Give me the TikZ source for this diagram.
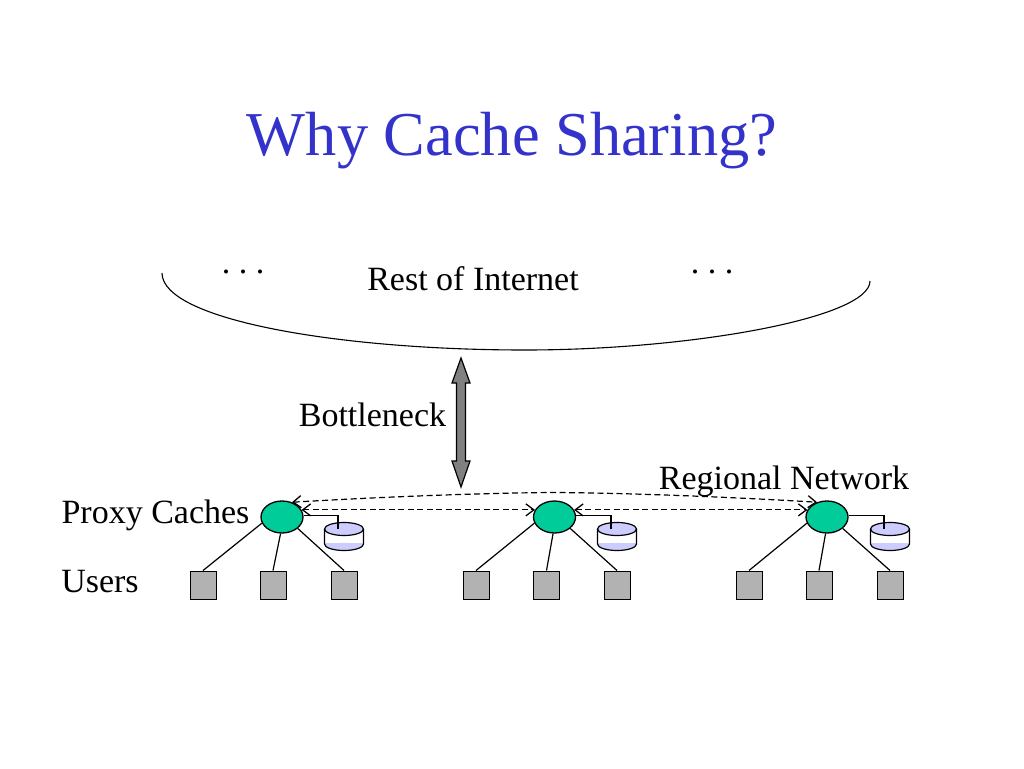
\documentclass[tikz,border=0pt]{standalone}
\usepackage{fontspec}
\setmainfont{Liberation Serif}
\usetikzlibrary{arrows.meta,shapes.geometric,calc}
\definecolor{titleblue}{RGB}{51,51,204}
\definecolor{proxygreen}{RGB}{0,204,153}
\definecolor{disklav}{RGB}{204,204,255}
\definecolor{usergray}{RGB}{178,178,178}
\tikzset{
  x=1pt,y=-1pt,
  proxy/.style={draw,ellipse,fill=proxygreen,minimum width=42pt,minimum height=32pt,inner sep=0pt,line width=1.3pt},
  userbox/.style={draw,fill=usergray,minimum width=26pt,minimum height=28pt,inner sep=0pt,line width=1pt},
  link/.style={line width=1.2pt},
  share/.style={line width=1.2pt,dash pattern=on 6pt off 3.5pt,{Straight Barb[length=8pt,width=12pt,line width=1.3pt]}-{Straight Barb[length=8pt,width=12pt,line width=1.3pt]}},
  label/.style={font=\fontsize{34}{40}\selectfont,anchor=base,inner sep=0pt},
  titletext/.style={font=\fontsize{62.4}{70}\selectfont,text=titleblue,anchor=base,inner sep=0pt}
}
\newcommand{\diskshape}[2]{%
  \coordinate (#2) at (#1,529);
  \fill[disklav] (#1-19.5,543) -- (#1+19.5,543) -- (#1+19.5,544) arc[start angle=360,end angle=180,x radius=19.5,y radius=-6.5] -- cycle;
  \draw[line width=1.2pt,fill=disklav] (#1,529) ellipse[x radius=19.5,y radius=6.5];
  \draw[line width=1.2pt] (#1-19.5,529) -- (#1-19.5,544) arc[start angle=180,end angle=360,x radius=19.5,y radius=-6.5] -- (#1+19.5,529);
}
\begin{document}
\begin{tikzpicture}
\useasboundingbox (0,0) rectangle (1024,768);
\fill[white] (0,0) rectangle (1024,768);

\node[titletext] (title) at (512,155) {Why Cache Sharing?};

\coordinate (netl) at (162,273);
\coordinate (netm) at (525,350);
\coordinate (netr) at (870,281);
\draw[line width=1.1pt] (netl) .. controls (162,320) and (340,350) .. (netm) .. controls (690,350) and (870,318) .. (netr);
\node[label] (dotsl) at (243,273.5) {\frenchspacing . . .};
\node[label] (dotsr) at (712,273.5) {\frenchspacing . . .};
\node[label] (rest) at (473,290) {Rest of Internet};
\node[label] (bottle) at (372.5,426) {Bottleneck};
\node[label] (regional) at (784,489) {Regional Network};
\node[label] (proxies) at (155.5,523) {Proxy Caches};
\node[label] (users) at (100,592) {Users};

\coordinate (neckt) at (461,358);
\coordinate (neckb) at (461,487);
\draw[fill=black!50,line width=1.2pt] (neckt) -- ++(9,25) -- ++(-4.5,0) -- (465.5,461) -- ++(4.5,0) -- (neckb)
  -- (452,461) -- ++(4.5,0) -- (456.5,383) -- ++(-4.5,0) -- cycle;

\diskshape{344}{d1}
\diskshape{617}{d2}
\diskshape{890}{d3}

\node[proxy] (p1) at (282,517) {};
\node[proxy] (p2) at (554.5,517) {};
\node[proxy] (p3) at (827,517) {};

\node[userbox] (u11) at (203,585) {};
\node[userbox] (u12) at (273,585) {};
\node[userbox] (u13) at (344,585) {};
\node[userbox] (u21) at (476,585) {};
\node[userbox] (u22) at (546.5,585) {};
\node[userbox] (u23) at (617,585) {};
\node[userbox] (u31) at (749,585) {};
\node[userbox] (u32) at (819,585) {};
\node[userbox] (u33) at (890,585) {};

\foreach \p in {1,2,3}{
  \draw[link] (p\p.197) -- (u\p1.north);
  \draw[link] (p\p.-95) -- (u\p2.north);
  \draw[link] (p\p.-36) -- (u\p3.north);
  \draw[link] (p\p.5) -| ($(d\p)+(-6,0)$);
}

\coordinate (apex) at (554,492.5);
\draw[share] (p1.20) -- (p2.160);
\draw[share] (p2.20) -- (p3.160);
\draw[share] (p1.56) .. controls (380,497) and (480,493) .. (apex) .. controls (630,493) and (730,497) .. (p3.124);
\end{tikzpicture}
\end{document}
